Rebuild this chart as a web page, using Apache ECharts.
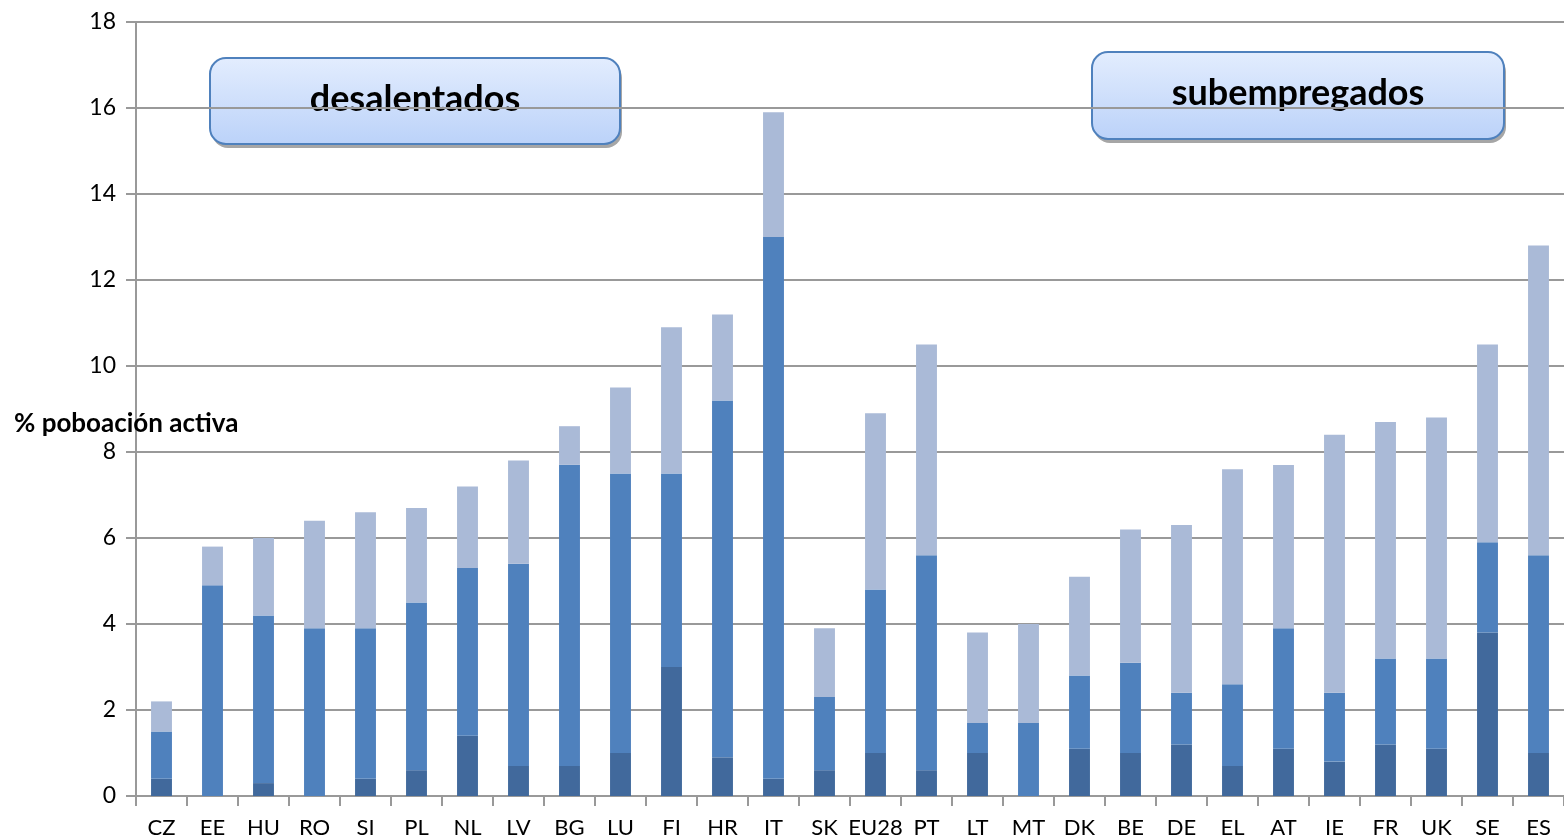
<!DOCTYPE html>
<html>
<head>
<meta charset="utf-8">
<script src="https://cdn.jsdelivr.net/npm/echarts@6/dist/echarts.min.js"></script>
<style>
html,body{margin:0;padding:0;background:#fff;}
#chart{width:1564px;height:839px;}
</style>
</head>
<body>
<div id="chart"></div>
<script>
const categories = ['CZ','EE','HU','RO','SI','PL','NL','LV','BG','LU','FI','HR','IT','SK','EU28','PT','LT','MT','DK','BE','DE','EL','AT','IE','FR','UK','SE','ES'];
const seriesDark  = [0.4,0,0.3,0,0.4,0.6,1.4,0.7,0.7,1.0,3.0,0.9,0.4,0.6,1.0,0.6,1.0,0,1.1,1.0,1.2,0.7,1.1,0.8,1.2,1.1,3.8,1.0];
const seriesMid   = [1.1,4.9,3.9,3.9,3.5,3.9,3.9,4.7,7.0,6.5,4.5,8.3,12.6,1.7,3.8,5.0,0.7,1.7,1.7,2.1,1.2,1.9,2.8,1.6,2.0,2.1,2.1,4.6];
const seriesLight = [0.7,0.9,1.8,2.5,2.7,2.2,1.9,2.4,0.9,2.0,3.4,2.0,2.9,1.6,4.1,4.9,2.1,2.3,2.3,3.1,3.9,5.0,3.8,6.0,5.5,5.6,4.6,7.2];
const yTicks = {min:0, max:18, interval:2};
const yAxisTitle = '% poboación activa';
const boxLabels = ['desalentados','subempregados'];

const FONT = 'Lato, "Open Sans", "Noto Sans", sans-serif';
const chart = echarts.init(document.getElementById('chart'), null, {renderer:'canvas'});

function box(x, y, w, h, label){
  return {
    type:'group', left:x, top:y,
    children:[
      {type:'rect', shape:{x:2,y:4,width:w,height:h,r:16},
       style:{fill:'#A6A6A6'}},
      {type:'rect', shape:{x:0,y:0,width:w,height:h,r:16},
       style:{
         fill:new echarts.graphic.LinearGradient(0,0,0,1,[{offset:0,color:'#E3EDFE'},{offset:1,color:'#BBD2F9'}]),
         stroke:'#4F81BD', lineWidth:2
       }},
      {type:'text', style:{x:w/2, y:h/2-2, text:label, fill:'#000', font:'bold 36px '+FONT, align:'center', verticalAlign:'middle'}}
    ]
  };
}

const barStyle = (c)=>({color:c});
chart.setOption({
  animation:false,
  backgroundColor:'#ffffff',
  grid:{left:136, right:-6, top:22, bottom:43, containLabel:false},
  xAxis:{
    type:'category', data:categories,
    axisLine:{lineStyle:{color:'#999999', width:2}},
    axisTick:{show:true, alignWithLabel:false, interval:0, length:10, lineStyle:{color:'#999999', width:2}},
    axisLabel:{interval:0, color:'#000', fontSize:22, fontFamily:FONT, margin:21}
  },
  yAxis:{
    type:'value', min:yTicks.min, max:yTicks.max, interval:yTicks.interval,
    axisLine:{show:true, lineStyle:{color:'#999999', width:2}},
    axisTick:{show:true, length:10, lineStyle:{color:'#999999', width:2}},
    axisLabel:{color:'#000', fontSize:23, fontFamily:FONT, margin:20},
    splitLine:{show:true, lineStyle:{color:'#999999', width:2}}
  },
  series:[
    {type:'bar', stack:'t', data:seriesDark, barWidth:'41%', itemStyle:barStyle('#41699C')},
    {type:'bar', stack:'t', data:seriesMid, itemStyle:barStyle('#4F81BD')},
    {type:'bar', stack:'t', data:seriesLight, itemStyle:barStyle('#AABAD7')}
  ],
  graphic:[
    box(209, 57, 410, 86, boxLabels[0]),
    box(1091, 51, 412, 87, boxLabels[1]),
    {type:'text', left:14, top:411, z:100, style:{text:yAxisTitle, fill:'#000', font:'bold 26px '+FONT}}
  ]
});
</script>
</body>
</html>
